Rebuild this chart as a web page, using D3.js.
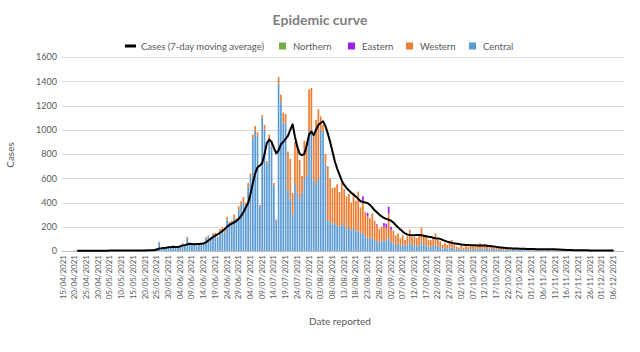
<!DOCTYPE html>
<html><head><meta charset="utf-8">
<script src="https://cdn.jsdelivr.net/npm/d3@7"></script>
<style>body{margin:0;background:#fff}text{font-family:Lato,"Open Sans",sans-serif}</style>
</head><body>
<svg id="chart" width="640" height="352"></svg>
<script>
// ---- DATA ----
const startDate = "2021-04-15";
const axisDays = 240; // categories on the x axis
const seriesKeys = ["Central", "Western", "Eastern", "Northern"];
const seriesColors = ["#5b9bd5", "#ed7d31", "#9b1ff0", "#70ad47"];

const central = [
 0,0,0,0,0,3,4,2,5,3, 4,2,3,5,3,2,4,3,2,3, 4,6,3,2,5,4,3,6,5,4, 3,5,4,2,6,8,5,4,10,15,
 20,72,25,30,22,35,28,40,32,30, 45,58,35,110,70,55,50,45,58,50, 65,105,120,85,130,135,110,160,175,150,
 260,220,230,270,250,340,380,400,370,530, 610,930,990,950,370,1100,1000,720,900,860,
 540,250,1380,1230,1060,1050,500,430,300,560, 480,430,480,600,620,980,1000,580,560,600,
 1000,980,720,250,240,220,230,210,200,230, 210,180,200,170,190,160,170,140,150,120,
 110,100,110,90,80,70,90,80,90,110, 75,70,50,60,40,50,45,50,70,45, 50,40,45,80,50,45,35,35,40,55,
 40,30,20,25,20,25,30,20,15,10, 20,10,15,10,15,10,20,15,20,15, 20,15,20,15,15,10,15,10,12,10,
 10,8,10,8,8,10,8,8,6,8, 8,6,7,8,6,6,7,8,8,6, 6,5,6,5,4,4,5,4,3,4, 3,4,3,3,3,2,3,3,2,3, 2,3,2,2,3,2
];
const western = [
 0,0,0,0,0,0,0,0,0,0, 0,0,0,0,0,0,0,0,0,0, 0,0,0,0,0,0,0,0,0,0, 0,0,1,0,0,2,0,0,2,3,
 2,3,0,4,2,3,2,5,3,2, 3,5,2,8,5,4,3,5,6,4, 5,10,10,10,15,15,10,20,20,20,
 20,20,20,30,20,30,30,45,30,30, 30,30,40,30,10,20,40,20,60,40,
 20,10,55,60,80,80,320,330,180,340, 390,320,140,310,280,350,345,380,520,570,
 110,60,80,450,360,300,295,340,285,350, 300,270,270,230,290,255,320,220,255,200,
 175,170,200,160,130,110,110,120,100,200, 100,100,80,85,65,80,45,70,105,70, 65,65,80,115,75,70,60,55,65,90,
 55,50,30,40,30,45,60,35,20,20, 30,20,30,25,35,30,35,40,45,30, 40,30,25,20,20,20,15,15,12,15,
 12,12,10,12,10,10,8,10,10,8, 8,8,7,6,8,7,8,8,9,7, 7,6,6,5,5,5,4,4,4,3, 3,3,3,3,3,3,2,3,3,2, 3,2,3,2,2,3
];
const eastern = [
 0,0,0,0,0,0,0,0,0,0, 0,0,0,0,0,0,0,0,0,0, 0,0,0,0,0,0,0,0,0,0, 0,0,0,0,0,0,0,0,0,0,
 0,0,0,0,0,0,0,0,0,0, 0,0,0,0,0,0,0,0,0,0, 0,0,0,0,0,0,0,0,0,0,
 0,0,0,0,0,0,0,0,0,0, 0,0,0,0,0,0,0,0,0,0, 0,0,0,0,0,0,0,0,0,0, 0,0,0,0,0,0,0,0,0,0,
 0,0,0,0,0,0,0,0,0,0, 0,0,0,0,0,0,0,0,45,0,
 30,0,0,0,10,0,0,30,35,55, 25,0,0,0,0,0,0,0,0,0, 0,0,0,0,0,0,0,0,0,0,
 0,0,0,0,0,0,0,0,0,0, 0,0,0,0,0,0,0,0,0,0, 0,0,0,0,0,0,0,0,0,0,
 0,0,0,0,0,0,0,0,0,0, 0,0,0,0,0,0,0,0,0,0, 0,0,0,0,0,0,0,0,0,0, 0,0,0,0,0,0,0,0,0,0, 0,0,0,0,0,0
];
const northern = [
 0,0,0,0,0,0,0,0,0,0, 0,0,0,0,0,0,0,0,0,0, 0,0,0,0,0,0,0,0,0,0, 0,0,0,0,0,0,0,0,0,0,
 0,0,0,0,0,0,0,0,0,0, 0,0,0,0,0,0,0,0,0,0, 0,0,0,0,0,0,0,0,0,0,
 0,0,0,0,0,0,0,0,0,0, 0,0,0,0,0,0,0,0,0,0, 0,0,0,0,0,0,0,0,0,0, 0,0,0,0,0,3,0,0,0,0,
 0,0,0,0,0,0,0,0,2,0, 0,0,0,0,0,0,0,0,0,0,
 0,2,0,0,0,0,0,0,0,0, 0,0,0,0,0,0,0,2,0,0, 0,0,0,0,0,0,0,0,0,0,
 0,0,0,0,0,0,0,0,0,0, 0,0,0,0,0,0,0,0,0,0, 0,0,0,0,0,0,0,0,0,0,
 0,0,0,0,0,0,0,0,0,0, 0,0,0,0,0,0,0,0,0,0, 0,0,0,0,0,0,0,0,0,0, 0,0,0,0,0,0,0,0,0,0, 0,0,0,0,0,0
];
const movingAvg = [
 null,null,null,null,null,null,2,2,3,3, 3,3,3,3,3,3,3,3,3,3, 4,4,4,4,4,4,4,4,4,4, 4,5,5,5,5,5,6,6,7,9,
 12,20,22,25,27,30,32,35,33,33, 38,45,48,55,57,58,56,57,58,60, 62,72,85,100,115,128,138,150,165,180,
 200,215,225,235,248,265,290,320,360,395, 470,560,640,690,705,725,800,890,920,900,
 850,805,830,880,900,925,950,1000,1045,940, 860,800,790,800,870,960,985,955,1000,1040,
 1055,1070,1030,970,900,820,740,680,630,580, 545,520,500,480,465,450,430,410,405,400,
 395,380,360,335,320,300,285,272,265,258, 250,235,215,195,178,160,145,135,132,130,
 130,131,132,130,126,122,118,115,110,106, 104,100,92,84,77,72,67,63,60,57,
 54,52,50,49,48,47,47,46,46,45, 45,44,42,40,37,34,31,29,27,25, 23,22,21,20,20,19,18,18,17,17,
 16,16,15,15,14,14,14,14,15,15, 14,13,12,11,10,9,8,8,7,7, 7,6,6,6,6,5,5,5,5,5, 5,5,5,5,5,5
];
const yTicks = [0,200,400,600,800,1000,1200,1400,1600];

// ---- CHART ----
(function draw() {
const svg = d3.select("#chart");
const pLeft = 62, pRight = 624, pTop = 57, pBottom = 251;
const parse = d3.timeParse("%Y-%m-%d");
const fmt = d3.timeFormat("%d/%m/%Y");
const d0 = parse(startDate);
const dates = d3.timeDay.range(d0, d3.timeDay.offset(d0, axisDays)).map(fmt);

const x = d3.scaleBand().domain(dates).range([pLeft, pRight]).paddingInner(0.28).paddingOuter(0.1);
const y = d3.scaleLinear().domain([0, 1600]).range([pBottom, pTop]);
const color = d3.scaleOrdinal().domain(seriesKeys).range(seriesColors);

svg.append("g").selectAll("line").data(yTicks.slice(1)).join("line")
  .attr("x1", pLeft).attr("x2", pRight)
  .attr("y1", d => Math.round(y(d)) + 0.5).attr("y2", d => Math.round(y(d)) + 0.5)
  .attr("stroke", "#d9d9d9").attr("stroke-width", 1);

const rows = central.map((c, i) => ({
  date: dates[i], Central: c, Western: western[i], Eastern: eastern[i], Northern: northern[i]
}));
const stacked = d3.stack().keys(seriesKeys)(rows);
svg.append("g").selectAll("g").data(stacked).join("g")
  .attr("fill", d => color(d.key))
  .selectAll("rect").data(d => d).join("rect")
  .attr("x", d => x(d.data.date))
  .attr("width", x.bandwidth())
  .attr("y", d => y(d[1]))
  .attr("height", d => Math.max(0, y(d[0]) - y(d[1])));

svg.append("line").attr("x1", pLeft).attr("x2", pRight).attr("y1", pBottom + 0.5).attr("y2", pBottom + 0.5)
  .attr("stroke", "#bfbfbf");

const line = d3.line()
  .defined(d => d != null)
  .x((d, i) => x(dates[i]) + x.bandwidth() / 2)
  .y(d => y(d));
svg.append("path").datum(movingAvg).attr("d", line)
  .attr("fill", "none").attr("stroke", "#000").attr("stroke-width", 2).attr("stroke-linejoin", "round");

const yAxis = d3.axisLeft(y).tickValues(yTicks).tickFormat(d3.format("d")).tickSize(0).tickPadding(4);
const gy = svg.append("g").attr("transform", `translate(${pLeft - 1},0)`).call(yAxis);
gy.select(".domain").remove();
gy.selectAll("text").attr("fill", "#595959").style("font-size", "9px").style("font-family", "Lato, sans-serif");

const xTicks = dates.filter((d, i) => i % 5 === 0 && i <= 235);
const xAxis = d3.axisBottom(x).tickValues(xTicks).tickSize(0);
const gx = svg.append("g").attr("transform", `translate(0,${pBottom})`).call(xAxis);
gx.select(".domain").remove();
gx.selectAll("text")
  .attr("fill", "#595959").style("font-size", "8px").style("font-family", "Lato, sans-serif")
  .attr("text-anchor", "end")
  .attr("transform", "rotate(-90)")
  .attr("x", -4).attr("y", 0).attr("dy", "0.32em");

svg.append("text").attr("transform", "translate(14,155) rotate(-90)")
  .attr("text-anchor", "middle").attr("fill", "#595959").style("font-size", "10px").text("Cases");
svg.append("text").attr("x", 340).attr("y", 325)
  .attr("text-anchor", "middle").attr("fill", "#595959").style("font-size", "10px").text("Date reported");

svg.append("text").attr("x", 320).attr("y", 25).attr("text-anchor", "middle")
  .attr("fill", "#7f7f7f").style("font-size", "14px").style("font-weight", "bold").text("Epidemic curve");

const lg = svg.append("g").style("font-size", "9.5px");
lg.append("line").attr("x1", 125).attr("x2", 136).attr("y1", 46).attr("y2", 46).attr("stroke", "#000").attr("stroke-width", 3);
lg.append("text").attr("x", 141).attr("y", 49.5).attr("fill", "#595959").text("Cases (7-day moving average)");
const legendItems = [["Northern", 279], ["Eastern", 348], ["Western", 406], ["Central", 469]];
legendItems.forEach(([k, lx]) => {
  lg.append("rect").attr("x", lx).attr("y", 42.5).attr("width", 7).attr("height", 7).attr("fill", color(k));
  lg.append("text").attr("x", lx + 14).attr("y", 49.5).attr("fill", "#595959").text(k);
});
})();
</script>
</body></html>
